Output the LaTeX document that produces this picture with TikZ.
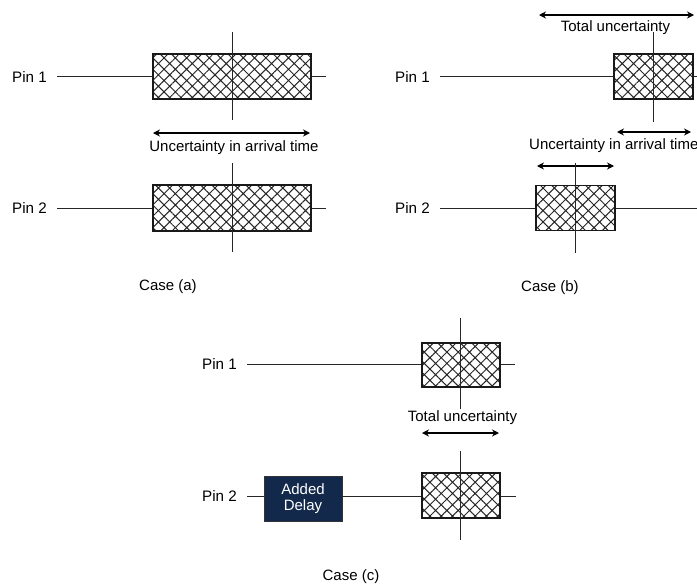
\documentclass[tikz,border=0pt]{standalone}
\usepackage{fontspec}
\setmainfont{Liberation Sans}
\usetikzlibrary{arrows.meta,patterns.meta}

\definecolor{delayblue}{HTML}{13294B}

\tikzset{
  wire/.style={draw=black!85, line width=0.9pt},
  marker/.style={draw=black!85, line width=0.9pt},
  window/.style={draw=black!90, line width=1.1pt, inner sep=0pt,
    pattern={Hatch[angle=45,distance=8pt,line width=1pt]},
    pattern color=black!85},
  delaybox/.style={draw=black!80, line width=0.9pt, fill=delayblue,
    text=white, align=center, inner sep=0pt, font=\fontsize{15}{15.5}\selectfont,
    minimum width=78pt, minimum height=45pt},
  pinlabel/.style={anchor=east, inner sep=0pt, xshift=-10pt,
    font=\fontsize{15.2}{18}\selectfont},
  caption/.style={inner sep=0pt, font=\fontsize{15}{18}\selectfont},
  span/.style={line width=1.1pt, {Stealth[length=7pt,width=7pt]}-{Stealth[length=7pt,width=7pt]}},
}

\begin{document}
\begin{tikzpicture}[x=1pt,y=-1pt]
\useasboundingbox (0,0) rectangle (697,584);

% ---------------- Case (a) ----------------
\node[window, minimum width=158pt, minimum height=45pt] (a1) at (232,76.5) {};
\coordinate (a1s) at (57,76.5);
\coordinate (a1e) at (326,76.5);
\node[pinlabel] (pa1) at (a1s) {Pin 1};
\draw[wire] (a1s) -- (a1.west);
\draw[wire] (a1.east) -- (a1e);
\coordinate (a1t) at (232,32);
\coordinate (a1b) at (232,120);
\draw[marker] (a1t) -- (a1b);

\coordinate (aspL) at (153,133);
\coordinate (aspR) at (310,133);
\draw[span] (aspL) -- (aspR);
\node[caption] (aunc) at (234,148) {Uncertainty in arrival time};

\node[window, minimum width=158pt, minimum height=46pt] (a2) at (232,208) {};
\coordinate (a2s) at (57,208);
\coordinate (a2e) at (326,208);
\node[pinlabel] (pa2) at (a2s) {Pin 2};
\draw[wire] (a2s) -- (a2.west);
\draw[wire] (a2.east) -- (a2e);
\coordinate (a2t) at (232,163);
\coordinate (a2b) at (232,252);
\draw[marker] (a2t) -- (a2b);

\node[caption] (capa) at (168,287) {Case (a)};

% ---------------- Case (b) ----------------
\coordinate (btL) at (539,15);
\coordinate (btR) at (694,15);
\draw[span] (btL) -- (btR);
\node[caption] (btot) at (615.5,28) {Total uncertainty};

\node[window, minimum width=79pt, minimum height=45pt] (b1) at (653.5,76.5) {};
\coordinate (b1s) at (440,76.5);
\coordinate (b1e) at (705,76.5);
\node[pinlabel] (pb1) at (b1s) {Pin 1};
\draw[wire] (b1s) -- (b1.west);
\draw[wire] (b1.east) -- (b1e);
\coordinate (b1t) at (653,32);
\coordinate (b1b) at (653,122);
\draw[marker] (b1t) -- (b1b);

\coordinate (bsL) at (617,132);
\coordinate (bsR) at (691,132);
\draw[span] (bsL) -- (bsR);
\node[caption, anchor=west] (bunc) at (529,146) {Uncertainty in arrival time};

\coordinate (b2L) at (537,166);
\coordinate (b2R) at (614,166);
\draw[span] (b2L) -- (b2R);

\node[window, minimum width=79pt, minimum height=45pt] (b2) at (575.5,208) {};
\coordinate (b2s) at (440,208);
\coordinate (b2e) at (705,208);
\node[pinlabel] (pb2) at (b2s) {Pin 2};
\draw[wire] (b2s) -- (b2.west);
\draw[wire] (b2.east) -- (b2e);
\coordinate (b2t) at (575,163);
\coordinate (b2b) at (575,253);
\draw[marker] (b2t) -- (b2b);

\node[caption] (capb) at (550,288) {Case (b)};

% ---------------- Case (c) ----------------
\node[window, minimum width=78pt, minimum height=44pt] (c1) at (461,365) {};
\coordinate (c1s) at (247,364);
\coordinate (c1e) at (515,364);
\node[pinlabel] (pc1) at (c1s) {Pin 1};
\draw[wire] (c1s) -- (c1.west |- c1s);
\draw[wire] (c1.east |- c1e) -- (c1e);
\coordinate (c1t) at (460,318);
\coordinate (c1b) at (460,409);
\draw[marker] (c1t) -- (c1b);

\node[caption] (ctot) at (462.5,418) {Total uncertainty};
\coordinate (csL) at (422,433);
\coordinate (csR) at (499,433);
\draw[span] (csL) -- (csR);

\node[delaybox] (dly) at (303,498.5) {Added\\Delay};
\node[window, minimum width=78pt, minimum height=45pt] (c2) at (461,495.5) {};
\coordinate (c2s) at (247,496);
\coordinate (c2e) at (516,496);
\node[pinlabel] (pc2) at (c2s) {Pin 2};
\draw[wire] (c2s) -- (dly.west |- c2s);
\draw[wire] (dly.east |- c2s) -- (c2.west |- c2s);
\draw[wire] (c2.east |- c2e) -- (c2e);
\coordinate (c2t) at (460,451);
\coordinate (c2b) at (460,540);
\draw[marker] (c2t) -- (c2b);

\node[caption] (capc) at (351,577) {Case (c)};
\end{tikzpicture}
\end{document}
